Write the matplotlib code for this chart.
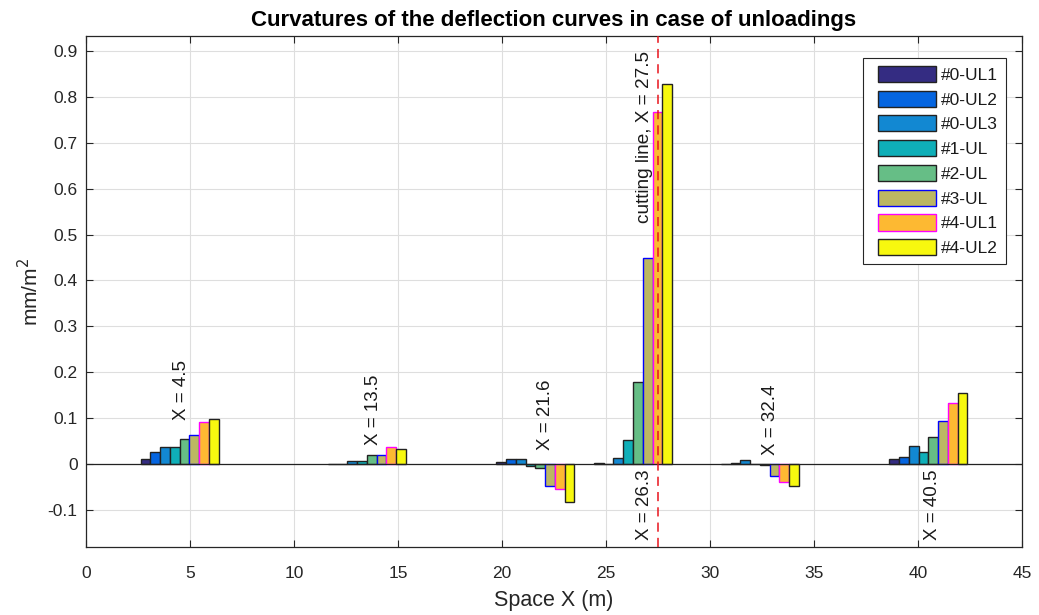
import matplotlib.pyplot as plt
import numpy as np
from matplotlib.container import BarContainer
from matplotlib.legend_handler import HandlerPatch
from matplotlib.patches import Rectangle

plt.rcParams['font.family'] = ['Liberation Sans', 'DejaVu Sans']

# section positions along the span (m)
x_pos = [4.5, 13.5, 21.6, 26.3, 32.4, 40.5]

series = ['#0-UL1', '#0-UL2', '#0-UL3', '#1-UL', '#2-UL', '#3-UL', '#4-UL1', '#4-UL2']

# curvature per section, one row per unloading (mm/m^2)
ul0_1 = [0.010, 0.000, 0.004, 0.003, 0.000, 0.010]
ul0_2 = [0.025, 0.000, 0.010, 0.000, 0.003, 0.016]
ul0_3 = [0.038, 0.006, 0.010, 0.013, 0.009, 0.039]
ul1 = [0.038, 0.006, -0.004, 0.053, 0.000, 0.027]
ul2 = [0.054, 0.019, -0.009, 0.178, -0.003, 0.059]
ul3 = [0.064, 0.019, -0.048, 0.450, -0.027, 0.094]
ul4_1 = [0.091, 0.038, -0.055, 0.767, -0.039, 0.133]
ul4_2 = [0.097, 0.033, -0.084, 0.829, -0.049, 0.155]
values = [ul0_1, ul0_2, ul0_3, ul1, ul2, ul3, ul4_1, ul4_2]

face_colors = ['#342c82', '#0565e0', '#1288d2', '#0fafb8',
               '#66be86', '#bcb762', '#fdb932', '#f7f80f']
edge_colors = ['#222222', '#222222', '#222222', '#222222',
               '#222222', '#0000ff', '#ff00ff', '#222222']

# section labels: text, x, y, vertical alignment
label_text = ['X = 4.5', 'X = 13.5', 'X = 21.6', 'X = 26.3', 'X = 32.4', 'X = 40.5']
label_x = [4.6, 13.8, 22.1, 26.85, 32.9, 40.7]
label_y = [0.095, 0.042, 0.03, -0.013, 0.02, -0.013]
label_va = ['bottom', 'bottom', 'bottom', 'top', 'bottom', 'top']

cut_x = 27.5


def legend_box(legend, orig_handle, xdescent, ydescent, width, height, fontsize):
    # leave a small gap on the left of each legend swatch
    gap = 5
    return Rectangle((-xdescent + gap, -ydescent), width - gap, height)


fig = plt.figure(figsize=(10.39, 6.15), dpi=100)
ax = fig.add_axes([0.0828, 0.1106, 0.9008, 0.8309])

n = len(series)
w = 0.8 * np.min(np.diff(x_pos)) / n
xs = np.array(x_pos)
for i in range(n):
    ax.bar(xs + (i - (n - 1) / 2) * w, values[i], width=w,
           color=face_colors[i], edgecolor=edge_colors[i], linewidth=1.0,
           label=series[i], zorder=3)

ax.axhline(0, color='#222222', linewidth=0.9, zorder=4)
ax.axvline(cut_x, color='#e8141c', linestyle=(0, (6, 4)), linewidth=1.1, zorder=5)

for t, lx, ly, va in zip(label_text, label_x, label_y, label_va):
    ax.text(lx, ly, t, rotation=90, ha='center', va=va, fontsize=13.5,
            color='#1a1a1a', zorder=6)
ax.text(26.85, 0.9, 'cutting line, X = 27.5', rotation=90, ha='center',
        va='top', fontsize=13.7, color='#1a1a1a', zorder=6)

ax.set_xlim(0, 45)
ax.set_ylim(-0.181, 0.933)
ax.set_xticks(np.arange(0, 46, 5))
ax.set_yticks(np.round(np.arange(-0.1, 0.91, 0.1), 1))
ax.set_yticklabels(['-0.1', '0', '0.1', '0.2', '0.3', '0.4', '0.5',
                    '0.6', '0.7', '0.8', '0.9'])
ax.grid(True, color='#dedede', linewidth=0.8, zorder=0)
ax.tick_params(direction='in', length=5, labelsize=12.5, colors='#262626',
               top=True, right=True, labeltop=False, labelright=False)
ax.tick_params(axis='x', pad=14)
ax.tick_params(axis='y', pad=6)
for s in ax.spines.values():
    s.set_color('#262626')
    s.set_linewidth(0.9)

ax.set_title('Curvatures of the deflection curves in case of unloadings',
             fontsize=16, fontweight='bold', color='black', pad=7)
ax.set_xlabel('Space X (m)', fontsize=15.5, color='#262626', labelpad=6)
ax.set_ylabel('mm/m$^2$', fontsize=15, color='#262626', labelpad=4)

leg = ax.legend(loc='upper right', bbox_to_anchor=(0.983, 0.957), fontsize=12.5,
                handlelength=3.75, handleheight=1.05, labelspacing=0.45,
                handletextpad=0.3, borderpad=0.45, fancybox=False,
                framealpha=1, edgecolor='#262626', borderaxespad=0,
                handler_map={BarContainer: HandlerPatch(
                    patch_func=legend_box,
                    update_func=lambda leg_h, orig: leg_h.update_from(orig[0]))})
leg.get_frame().set_linewidth(0.8)
for txt in leg.get_texts():
    txt.set_color('#1a1a1a')

fig.savefig('out.png', dpi=100)
